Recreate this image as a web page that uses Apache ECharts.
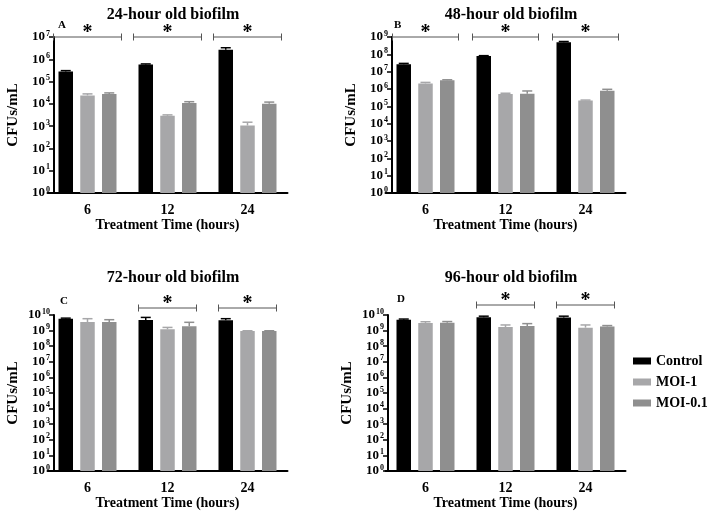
<!DOCTYPE html>
<html>
<head>
<meta charset="utf-8">
<script src="https://cdn.jsdelivr.net/npm/echarts@6/dist/echarts.min.js"></script>
<style>
  html, body { margin: 0; padding: 0; background: #fff; }
  #chart { width: 708px; height: 513px; }
</style>
</head>
<body>
<div id="chart"></div>
<script>
const categories = ['6', '12', '24']
const groupNames = ['Control', 'MOI-1', 'MOI-0.1']
const colors = ['#000000', '#a7a7a9', '#8f8f8f']

// panel A - 24-hour old biofilm
const controlA = [2.8e5, 5.8e5, 2.7e6]
const controlAUpper = [3.1e5, 6.2e5, 3.3e6]
const moi1A = [2.4e4, 2.9e3, 1.07e3]
const moi1AUpper = [2.8e4, 3.2e3, 1.5e3]
const moi01A = [2.8e4, 1.1e4, 1.0e4]
const moi01AUpper = [3.1e4, 1.25e4, 1.2e4]
const sigA = ['6', '12', '24']

// panel B - 48-hour old biofilm
const controlB = [2.7e7, 7.9e7, 5.0e8]
const controlBUpper = [3.0e7, 8.4e7, 5.5e8]
const moi1B = [2.1e6, 5.2e5, 2.2e5]
const moi1BUpper = [2.4e6, 5.7e5, 2.3e5]
const moi01B = [3.2e6, 5.4e5, 7.8e5]
const moi01BUpper = [3.4e6, 7.7e5, 9.6e5]
const sigB = ['6', '12', '24']

// panel C - 72-hour old biofilm
const controlC = [5.8e9, 4.8e9, 4.6e9]
const controlCUpper = [6.3e9, 7.0e9, 5.8e9]
const moi1C = [3.5e9, 1.2e9, 9.3e8]
const moi1CUpper = [5.8e9, 1.6e9, 9.8e8]
const moi01C = [3.5e9, 1.9e9, 9.3e8]
const moi01CUpper = [5.0e9, 3.4e9, 9.8e8]
const sigC = ['12', '24']

// panel D - 96-hour old biofilm
const controlD = [5.0e9, 7.1e9, 7.0e9]
const controlDUpper = [5.5e9, 8.4e9, 8.4e9]
const moi1D = [3.1e9, 1.7e9, 1.55e9]
const moi1DUpper = [3.7e9, 2.3e9, 2.3e9]
const moi01D = [3.2e9, 1.95e9, 1.8e9]
const moi01DUpper = [3.8e9, 2.8e9, 2.1e9]
const sigD = ['12', '24']

const yMaxes = [1e7, 1e9, 1e10, 1e10]

const FONT = 'Liberation Serif'
const BAR_W = 14.5
const BAR_STEP = 21.75

const panels = [
  { title: '24-hour old biofilm', letter: 'A', left: 47.5, top: 37, titleX: 168, titleY: 2, letterX: 53, letterY: 15, axisOffset: -6.5, bracketLift: 0, bracketHalf: 34,
    values: [controlA, moi1A, moi01A], uppers: [controlAUpper, moi1AUpper, moi01AUpper], sig: sigA },
  { title: '48-hour old biofilm', letter: 'B', left: 385.5, top: 37, titleX: 506, titleY: 2, letterX: 389, letterY: 15, axisOffset: -6.5, bracketLift: 0, bracketHalf: 33,
    values: [controlB, moi1B, moi01B], uppers: [controlBUpper, moi1BUpper, moi01BUpper], sig: sigB },
  { title: '72-hour old biofilm', letter: 'C', left: 47.5, top: 315, titleX: 168, titleY: 265, letterX: 55, letterY: 291, axisOffset: -6.5, bracketLift: 7, bracketHalf: 29,
    values: [controlC, moi1C, moi01C], uppers: [controlCUpper, moi1CUpper, moi01CUpper], sig: sigC },
  { title: '96-hour old biofilm', letter: 'D', left: 385.5, top: 315, titleX: 506, titleY: 265, letterX: 392, letterY: 289, axisOffset: -2.5, bracketLift: 10, bracketHalf: 29,
    values: [controlD, moi1D, moi01D], uppers: [controlDUpper, moi1DUpper, moi01DUpper], sig: sigD }
]

function powLabel(value) {
  const exp = Math.round(Math.log10(value))
  return '{b|10}{s|' + exp + '}'
}

function errorSeries(g, k, values, uppers) {
  return {
    type: 'custom',
    xAxisIndex: g,
    yAxisIndex: g,
    z: 3,
    silent: true,
    encode: { x: 0, y: [1, 2] },
    data: categories.map((c, i) => [i, values[i], uppers[i]]),
    renderItem(params, api) {
      const top = api.coord([api.value(0), api.value(2)])
      const low = api.coord([api.value(0), api.value(1)])
      const x = top[0] + (k - 1) * BAR_STEP
      const style = { stroke: colors[k], lineWidth: 1.5 }
      return {
        type: 'group',
        children: [
          { type: 'line', shape: { x1: x, y1: low[1], x2: x, y2: top[1] }, style },
          { type: 'line', shape: { x1: x - 5, y1: top[1], x2: x + 5, y2: top[1] }, style }
        ]
      }
    }
  }
}

function bracketSeries(g, panel) {
  const yMax = yMaxes[g]
  return {
    type: 'custom',
    xAxisIndex: g,
    yAxisIndex: g,
    z: 4,
    silent: true,
    clip: false,
    encode: { x: 0, y: 1 },
    data: panel.sig.map(c => [categories.indexOf(c), yMax]),
    renderItem(params, api) {
      const p = api.coord([api.value(0), api.value(1)])
      const y = p[1] - panel.bracketLift
      const x1 = p[0] - panel.bracketHalf
      const x2 = p[0] + panel.bracketHalf
      const style = { stroke: '#555', lineWidth: 1 }
      return {
        type: 'group',
        children: [
          { type: 'line', shape: { x1, y1: y, x2, y2: y }, style },
          { type: 'line', shape: { x1, y1: y - 3.5, x2: x1, y2: y + 3.5 }, style },
          { type: 'line', shape: { x1: x2, y1: y - 3.5, x2, y2: y + 3.5 }, style },
          { type: 'text', style: { text: '*', x: p[0], y: y + 6, align: 'center', verticalAlign: 'bottom', font: 'bold 20px ' + FONT, fill: '#000' } }
        ]
      }
    }
  }
}

const chart = echarts.init(document.getElementById('chart'))

const titles = []
const grids = []
const xAxes = []
const yAxes = []
const series = []

panels.forEach((panel, g) => {
  titles.push({
    text: panel.title, left: panel.titleX, top: panel.titleY, textAlign: 'center',
    textStyle: { fontFamily: FONT, fontWeight: 'bold', fontSize: 16, color: '#000' }
  })
  titles.push({
    text: panel.letter, left: panel.letterX, top: panel.letterY,
    textStyle: { fontFamily: FONT, fontWeight: 'bold', fontSize: 11, color: '#000' }
  })
  grids.push({ left: panel.left, top: panel.top, width: 240, height: 156 })
  xAxes.push({
    type: 'category',
    gridIndex: g,
    data: categories,
    name: 'Treatment Time (hours)',
    nameLocation: 'middle',
    nameGap: 25,
    nameTextStyle: { fontFamily: FONT, fontWeight: 'bold', fontSize: 14, color: '#000' },
    axisLine: { lineStyle: { color: '#000', width: 2 } },
    axisTick: { alignWithLabel: true, length: 5, lineStyle: { color: '#000', width: 1.5 } },
    axisLabel: { fontFamily: FONT, fontWeight: 'bold', fontSize: 14, color: '#000', margin: 10 }
  })
  yAxes.push({
    type: 'log',
    logBase: 10,
    gridIndex: g,
    min: 1,
    max: yMaxes[g],
    interval: 1,
    offset: panel.axisOffset,
    name: 'CFUs/mL',
    nameLocation: 'middle',
    nameGap: 33,
    nameTextStyle: { fontFamily: FONT, fontWeight: 'bold', fontSize: 15, color: '#000' },
    axisLine: { show: true, lineStyle: { color: '#000', width: 2 } },
    axisTick: { show: true, length: 5, lineStyle: { color: '#000', width: 1.5 } },
    minorTick: { show: false },
    splitLine: { show: false },
    axisLabel: {
      margin: 4,
      formatter: powLabel,
      rich: {
        b: { fontFamily: FONT, fontWeight: 'bold', fontSize: 13, color: '#000' },
        s: { fontFamily: FONT, fontWeight: 'bold', fontSize: 8, color: '#000', padding: [0, 0, 7, 1] }
      }
    }
  })
  groupNames.forEach((name, k) => {
    series.push({
      name,
      type: 'bar',
      xAxisIndex: g,
      yAxisIndex: g,
      barWidth: BAR_W,
      barGap: '50%',
      itemStyle: { color: colors[k] },
      data: panel.values[k]
    })
  })
  groupNames.forEach((name, k) => {
    series.push(errorSeries(g, k, panel.values[k], panel.uppers[k]))
  })
  series.push(bracketSeries(g, panel))
})

chart.setOption({
  animation: false,
  title: titles,
  legend: {
    data: groupNames,
    orient: 'vertical',
    left: 628,
    top: 349,
    itemWidth: 18,
    itemHeight: 7,
    itemGap: 7,
    icon: 'rect',
    textStyle: { fontFamily: FONT, fontWeight: 'bold', fontSize: 14, color: '#000' }
  },
  grid: grids,
  xAxis: xAxes,
  yAxis: yAxes,
  series
})
</script>
</body>
</html>
